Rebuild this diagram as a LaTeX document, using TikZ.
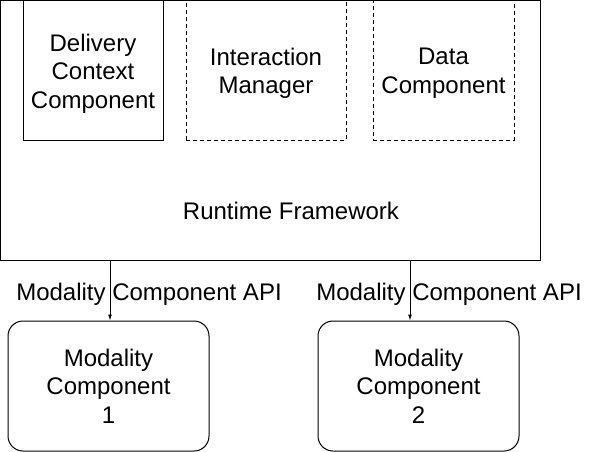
\documentclass[tikz,border=0pt]{standalone}
\usepackage{fontspec}
\setmainfont{Liberation Sans}
\usetikzlibrary{arrows.meta, positioning}

\begin{document}
\begin{tikzpicture}[
    x=1pt, y=-1pt,
    box/.style={draw, line width=1pt, inner sep=0pt, align=center, font=\fontsize{24}{28.5}\selectfont},
    dbox/.style={box, dashed, dash pattern=on 4pt off 3pt},
    mcbox/.style={box, rounded corners=15pt, minimum width=201pt, minimum height=130pt},
    lbl/.style={inner sep=0pt, align=center, font=\fontsize{24}{28.5}\selectfont},
    arr/.style={-{Latex[length=6pt, width=4pt]}, line width=1pt}
]
    \useasboundingbox (0,0) rectangle (589,452);

    % runtime framework and its parts
    \node[box, minimum width=539.5pt, minimum height=259.5pt] (rf) at (270.25,130.25) {};
    \node[lbl] (rflbl) at (291,211) {Runtime Framework};
    \node[box, minimum width=140pt, minimum height=139.5pt] (dcc) at (93,70.25) {};
    \node[dbox, minimum width=160pt, minimum height=139.5pt] (im) at (266,70.25) {};
    \node[dbox, minimum width=141pt, minimum height=139.5pt] (dc) at (443.5,70.25) {};
    \node[lbl, yshift=-3.5pt] (dcclbl) at (dcc.center) {Delivery\\Context\\Component};
    \node[lbl, yshift=-3pt] (imlbl) at (im.center) {Interaction\\Manager};
    \node[lbl, yshift=-3pt] (dclbl) at (dc.center) {Data\\Component};

    % modality components
    \node[mcbox] (mc1) at (108.5,386) {Modality\\Component\\1};
    \node[mcbox] (mc2) at (418.5,386) {Modality\\Component\\2};

    \coordinate (a1) at (110,260);
    \coordinate (a2) at (410,260);
    \draw[arr] (a1) -- (a1 |- mc1.north);
    \draw[arr] (a2) -- (a2 |- mc2.north);

    \node[lbl, anchor=base] (api1) at (149,300) {Modality Component API};
    \node[lbl, anchor=base] (api2) at (449,300) {Modality Component API};
\end{tikzpicture}
\end{document}
